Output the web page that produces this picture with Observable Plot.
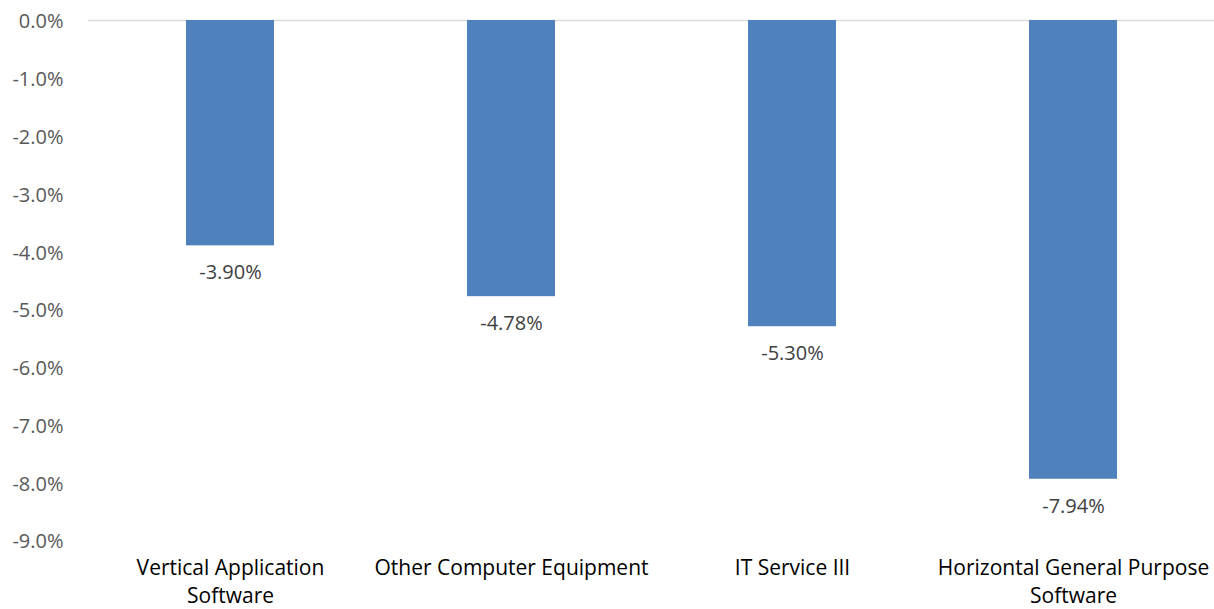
<!DOCTYPE html>
<html>
<head>
<meta charset="utf-8">
<script src="https://cdn.jsdelivr.net/npm/d3@7"></script>
<script src="https://cdn.jsdelivr.net/npm/@observablehq/plot@0.6"></script>
<style>
  html, body { margin: 0; padding: 0; background: #fff; }
  #chart svg { display: block; }
</style>
</head>
<body>
<div id="chart"></div>
<script>
const categories = ["Vertical Application Software", "Other Computer Equipment", "IT Service III", "Horizontal General Purpose Software"];
const categoryLabels = ["Vertical Application\nSoftware", "Other Computer Equipment", "IT Service III", "Horizontal General Purpose\nSoftware"];
const values = [-3.90, -4.78, -5.30, -7.94];
const yTicks = [0, -1, -2, -3, -4, -5, -6, -7, -8, -9];

const data = categories.map((c, i) => ({category: c, value: values[i]}));
const labelMap = new Map(categories.map((c, i) => [c, categoryLabels[i]]));

const chart = Plot.plot({
  width: 1214,
  height: 609,
  marginTop: 20,
  marginBottom: 69,
  marginLeft: 88,
  marginRight: 0,
  style: {fontFamily: "'Open Sans', Lato, sans-serif", background: "#fff"},
  x: {domain: categories, paddingInner: 0.6875, paddingOuter: 0.34375, label: null},
  y: {domain: [-9, 0], label: null},
  marks: [
    Plot.ruleY([0], {stroke: "#d9d9d9", strokeWidth: 1.5}),
    Plot.barY(data, {x: "category", y: "value", fill: "#4f81bd"}),
    Plot.text(data, {x: "category", y: "value", text: d => d.value.toFixed(2) + "%", dy: 27, fontSize: 20, fill: "#404040"}),
    Plot.axisY({ticks: yTicks, tickSize: 0, tickPadding: 25, dy: 1.5, tickFormat: d => d.toFixed(1) + "%", fontSize: 20, color: "#595959"}),
    Plot.axisX({tickSize: 0, tickPadding: 14, tickFormat: d => labelMap.get(d), fontSize: 21, color: "#000", lineHeight: 1.36})
  ]
});
document.getElementById("chart").appendChild(chart);
</script>
</body>
</html>
